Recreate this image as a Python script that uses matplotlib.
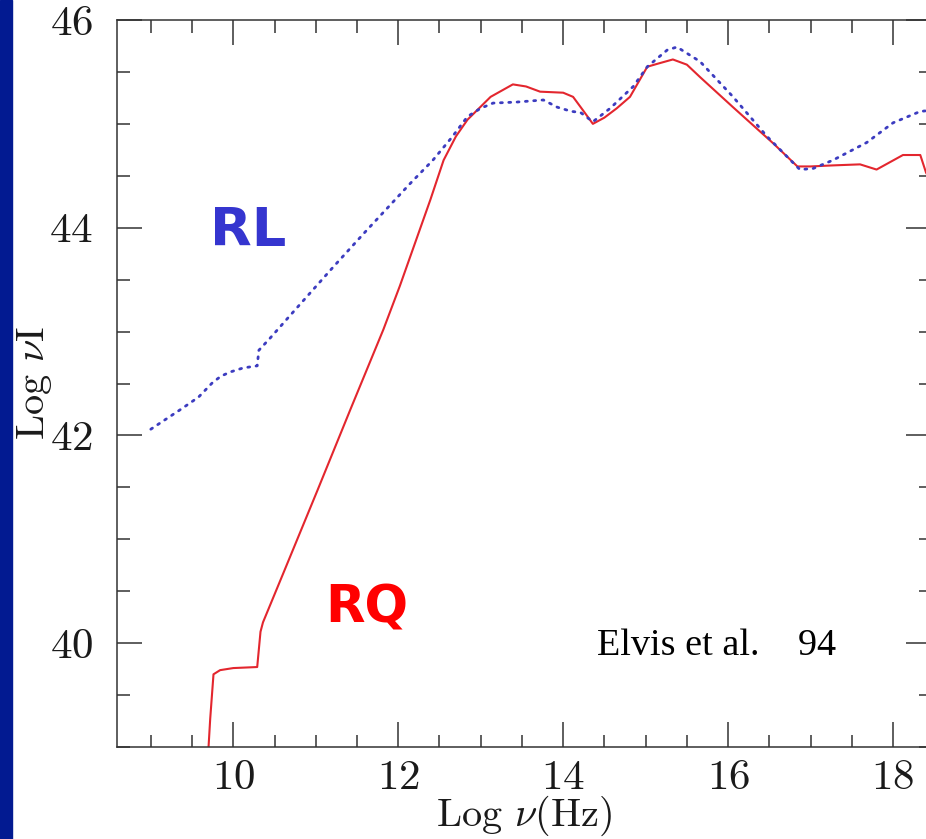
import matplotlib
matplotlib.use("Agg")
import matplotlib.pyplot as plt
from matplotlib.patches import Rectangle
from matplotlib.ticker import MultipleLocator

# radio-loud (dotted blue) SED
rl_x = [9.0, 9.38, 9.58, 9.75, 9.85, 9.96, 10.12, 10.29, 10.31, 10.45, 10.65,
        11.21, 11.6, 12.15, 12.42, 12.65, 12.84, 13.0, 13.15, 13.44, 13.76,
        13.93, 14.1, 14.21, 14.36, 14.57, 14.85, 15.02, 15.26, 15.38, 15.66,
        16.06, 16.47, 16.72, 16.87, 17.03, 17.27, 17.68, 18.0, 18.33, 18.46]
rl_y = [42.06, 42.26, 42.37, 42.51, 42.57, 42.61, 42.65, 42.67, 42.82, 42.94,
        43.12, 43.62, 43.96, 44.43, 44.65, 44.87, 45.07, 45.15, 45.2, 45.21,
        45.23, 45.16, 45.12, 45.11, 45.02, 45.15, 45.36, 45.55, 45.71, 45.74,
        45.6, 45.26, 44.88, 44.68, 44.56, 44.57, 44.65, 44.82, 45.01, 45.12,
        45.13]

# radio-quiet (solid red) SED
rq_x = [9.70, 9.72, 9.76, 9.84, 10.0, 10.29, 10.33, 10.36, 10.61, 11.02, 11.42,
        11.82, 12.02, 12.39, 12.55, 12.7, 12.84, 13.12, 13.39, 13.55, 13.72,
        14.0, 14.12, 14.25, 14.36, 14.5, 14.65, 14.81, 15.02, 15.15, 15.33,
        15.5, 15.66, 16.06, 16.55, 16.84, 17.0, 17.27, 17.6, 17.8, 18.12,
        18.33, 18.4, 18.46]
rq_y = [39.0, 39.27, 39.70, 39.74, 39.76, 39.77, 40.11, 40.20, 40.68, 41.47,
        42.25, 43.02, 43.44, 44.27, 44.65, 44.88, 45.04, 45.26, 45.38, 45.36,
        45.31, 45.30, 45.26, 45.12, 45.0, 45.06, 45.15, 45.26, 45.55, 45.58,
        45.62, 45.57, 45.45, 45.16, 44.81, 44.59, 44.59, 44.60, 44.61, 44.56,
        44.70, 44.70, 44.53, 44.45]

plt.rcParams["font.family"] = "cmr10"
plt.rcParams["mathtext.fontset"] = "cm"
plt.rcParams["axes.formatter.use_mathtext"] = True

W, H = 926, 839
fig = plt.figure(figsize=(W / 100, H / 100), dpi=100)
fig.patches.append(Rectangle((0, 0), 12 / W, 1, transform=fig.transFigure,
                             color="#021a91", zorder=0))

ax = fig.add_axes([117 / W, 1 - 747 / H, (931 - 117) / W, (747 - 20) / H])
ax.plot(rq_x, rq_y, color="#e3262e", lw=1.5)
ax.plot(rl_x, rl_y, color="#3c3cc0", lw=2.0, linestyle=(0, (0.7, 2.3)),
        dash_capstyle="round")

ax.set_xlim(8.59, 18.46)
ax.set_ylim(39.0, 46.0)
ax.xaxis.set_major_locator(MultipleLocator(2))
ax.xaxis.set_minor_locator(MultipleLocator(0.5))
ax.yaxis.set_major_locator(MultipleLocator(2))
ax.yaxis.set_minor_locator(MultipleLocator(0.5))
ax.tick_params(which="both", direction="in", top=True, right=True,
               color="#333333", width=1.1, labelsize=31, labelcolor="#1a1a1a")
ax.tick_params(which="major", length=18)
ax.tick_params(which="minor", length=9)
ax.tick_params(axis="x", pad=9)
ax.tick_params(axis="y", pad=17)
for spine in ax.spines.values():
    spine.set_color("#333333")
    spine.set_linewidth(1.1)

fig.text(524 / W, 1 - 826 / H, r"Log $\nu$(Hz)", ha="center", va="baseline",
         fontsize=29, color="#1a1a1a")
fig.text(34 / W, 1 - 383 / H, r"Log $\nu$I", ha="center", va="center",
         rotation=90, fontsize=29, color="#1a1a1a")

ax.text(14.41, 39.89, "Elvis et al.    94", family="Liberation Serif",
        fontsize=27.5, color="black")
ax.text(9.72, 43.82, "RL", family="DejaVu Sans", weight="bold", fontsize=39,
        color="#3535cf")
ax.text(11.12, 40.20, "RQ", family="DejaVu Sans", weight="bold", fontsize=37,
        color="#ff0000")

fig.savefig("out.png", dpi=100)
